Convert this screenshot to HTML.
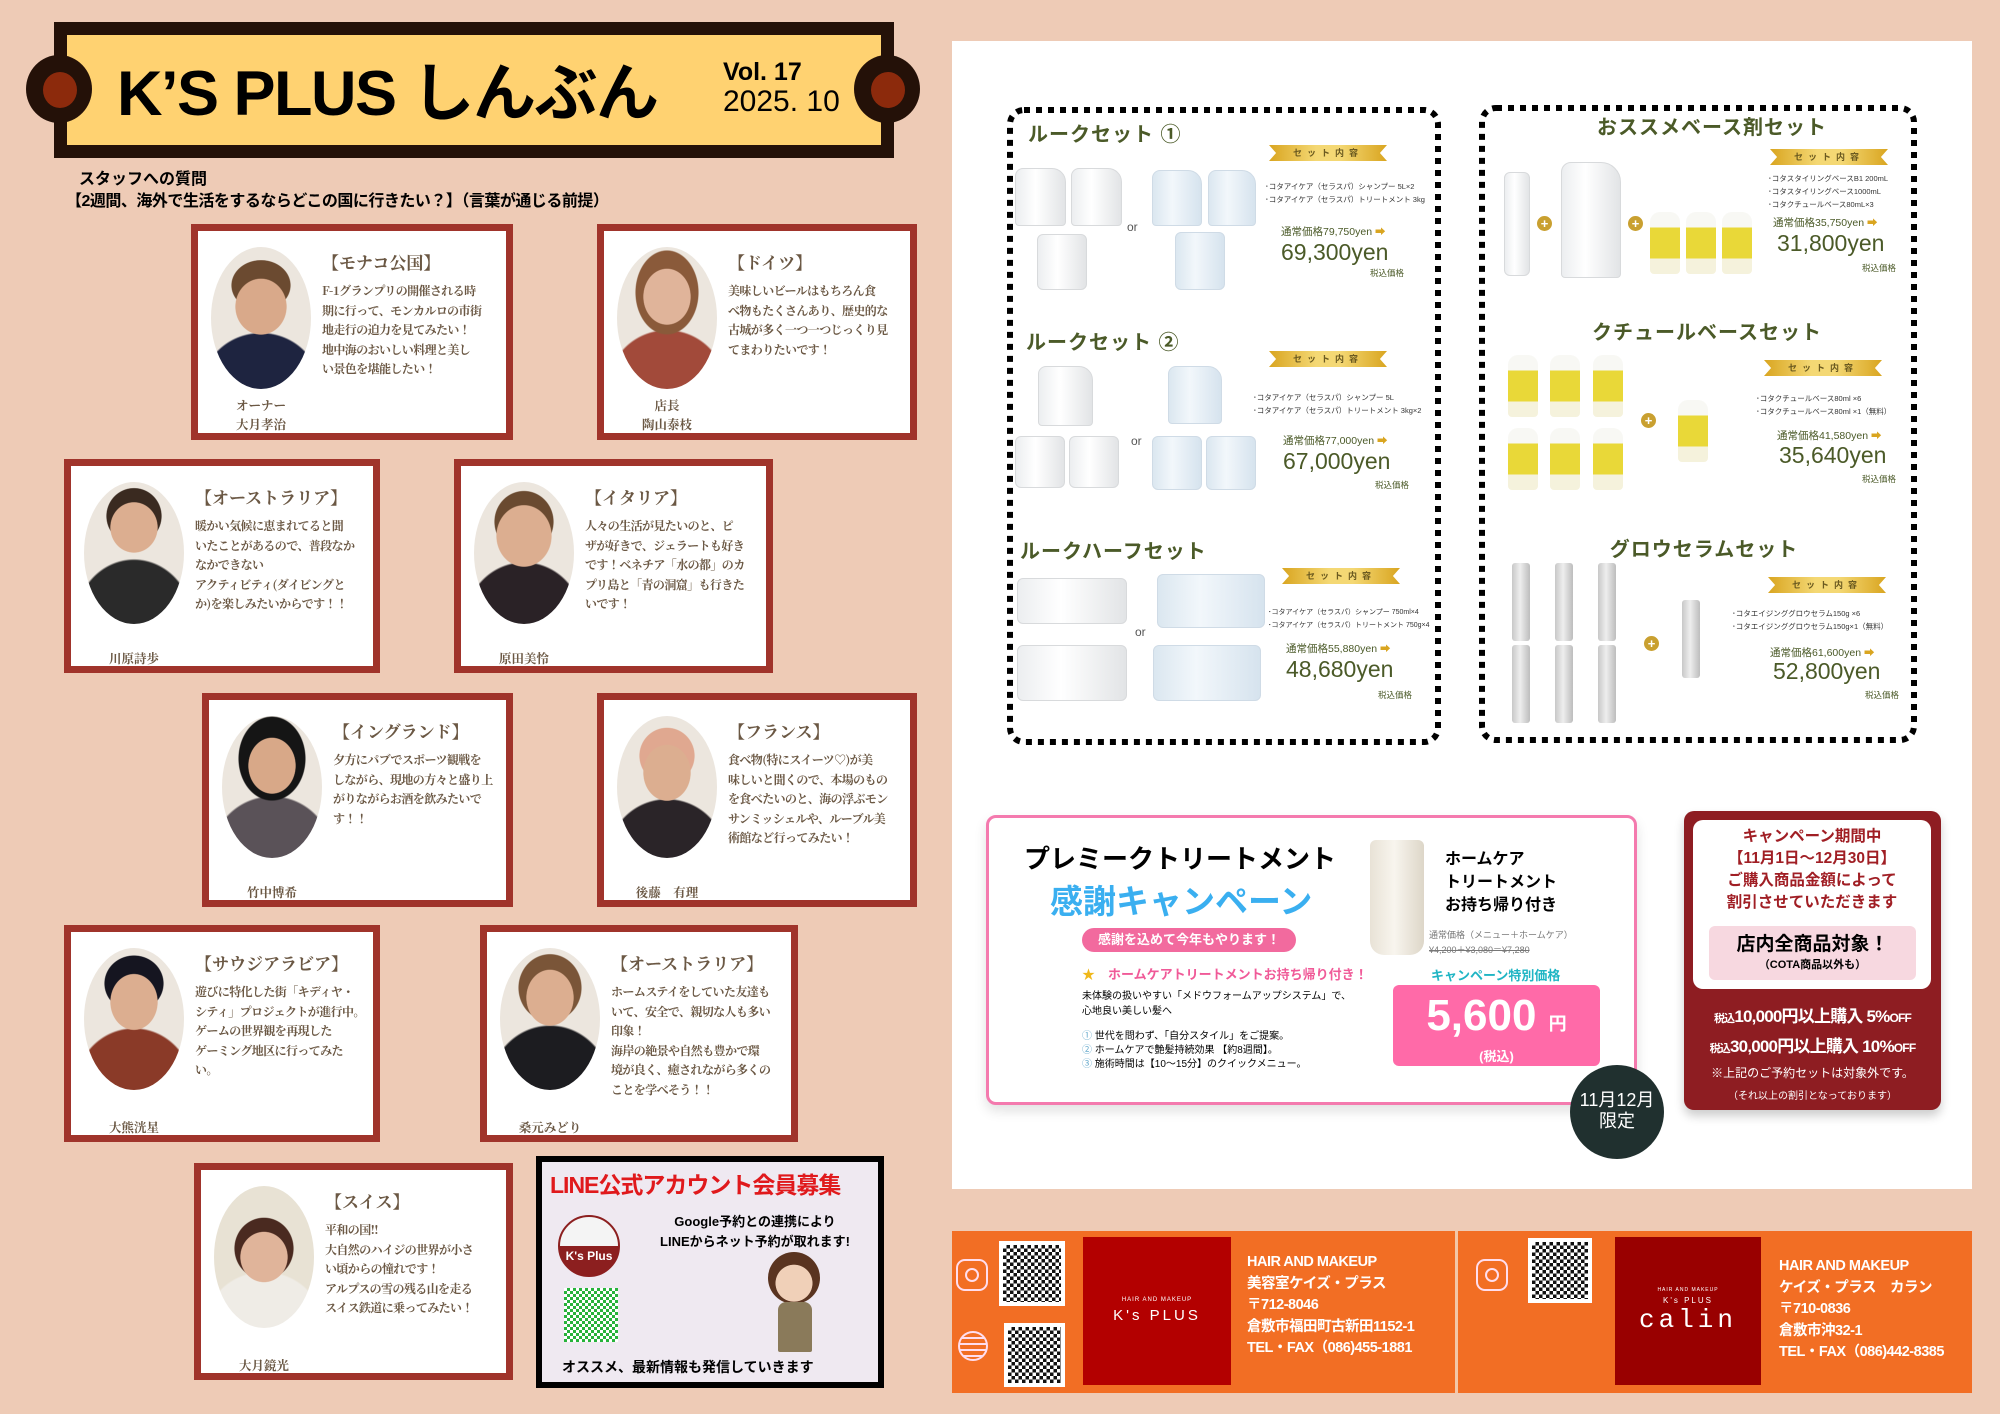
<!DOCTYPE html>
<html><head><meta charset="utf-8">
<style>
*{margin:0;padding:0;box-sizing:border-box}
body{width:2000px;height:1414px;background:#eecbb6;position:relative;overflow:hidden;font-family:"Liberation Sans","Noto Sans CJK JP",sans-serif}
.a{position:absolute}
.card{position:absolute;background:#fff;border:7px solid #a0342b}
.card .ph{position:absolute;left:13px;top:16px;width:100px;height:142px;border-radius:50%;overflow:hidden}
.card .t{position:absolute;left:124px;top:18px;font-family:"Noto Serif CJK JP","Liberation Serif",serif;font-weight:bold;font-size:17px;color:#6b5844;white-space:nowrap}
.card .b{position:absolute;left:124px;top:50px;font-family:"Noto Serif CJK JP","Liberation Serif",serif;font-weight:bold;font-size:12px;letter-spacing:-0.6px;line-height:19.5px;color:#6b5844;white-space:nowrap}
.card .n{position:absolute;left:0;width:126px;text-align:center;font-family:"Noto Serif CJK JP","Liberation Serif",serif;font-weight:bold;font-size:12.5px;line-height:19px;color:#6b5844}
.ttl{position:absolute;color:#4b5a28;font-weight:bold;font-size:20px;white-space:nowrap;letter-spacing:1px}
.ban{position:absolute;width:118px;height:16px;background:linear-gradient(90deg,#d9a520,#f4d874 40%,#f4d874 60%,#d9a520);clip-path:polygon(0 0,100% 0,94% 50%,100% 100%,0 100%,6% 50%);color:#6b5a20;font-size:9px;text-align:center;line-height:16px;letter-spacing:5px;font-weight:bold}
.bul{position:absolute;font-size:7.5px;line-height:13px;color:#333;white-space:nowrap}
.ps{position:absolute;font-size:10.5px;color:#4b5a28;white-space:nowrap}
.ps span{color:#d9a520}
.pb{position:absolute;font-size:23px;color:#4b5a28;white-space:nowrap}
.tx{position:absolute;font-size:8.5px;color:#4b5a28}
.jug{position:absolute;background:linear-gradient(90deg,#eceef0,#fff 40%,#e2e4e6);border:1px solid #d8dadc;border-radius:8px 14px 4px 4px}
.bj{position:absolute;background:linear-gradient(90deg,#dbe7f0,#f2f7fb 40%,#d6e3ee);border:1px solid #cfdbe6;border-radius:8px 14px 4px 4px}
.yb{position:absolute;width:30px;height:62px;border-radius:10px 10px 4px 4px;background:linear-gradient(#f8f8f4 0 25%,#e9d838 25% 75%,#f5f2dc 75%)}
.sp{position:absolute;width:18px;height:78px;border-radius:3px;background:linear-gradient(90deg,#c8c8c8,#eee 45%,#bdbdbd)}
.plus{position:absolute;width:15px;height:15px;border-radius:50%;background:#c9a030;color:#fff;font-size:13px;line-height:15px;text-align:center;font-weight:bold}
.or{position:absolute;font-size:12px;color:#555}
.qr{position:absolute;background:#fff;padding:4px}
.qr div{width:100%;height:100%;background:conic-gradient(#111 25%,#fff 0 50%,#111 0 75%,#fff 0) 0 0/7px 7px}
.ft{position:absolute;color:#fff;font-weight:bold;font-size:14.5px;line-height:21.5px;white-space:nowrap;letter-spacing:-.5px}
</style></head><body>

<!-- header -->
<div class="a" style="left:54px;top:22px;width:840px;height:136px;background:#241108"></div>
<div class="a" style="left:67px;top:35px;width:814px;height:110px;background:#ffd271"></div>
<div class="a" style="left:26px;top:55px;width:66px;height:68px;border-radius:50%;background:#241108"></div>
<div class="a" style="left:43px;top:72px;width:34px;height:36px;border-radius:50%;background:#8c2a0c"></div>
<div class="a" style="left:854px;top:55px;width:66px;height:68px;border-radius:50%;background:#241108"></div>
<div class="a" style="left:871px;top:72px;width:34px;height:36px;border-radius:50%;background:#8c2a0c"></div>
<div class="a" style="left:117px;top:43px;font-size:63px;font-weight:bold;color:#000;white-space:nowrap;letter-spacing:-1.5px">K’S PLUS しんぶん</div>
<div class="a" style="left:723px;top:58px;font-size:25px;font-weight:bold;color:#000">Vol. 17</div>
<div class="a" style="left:723px;top:85px;font-size:30px;color:#000">2025. 10</div>
<div class="a" style="left:79px;top:165px;font-size:16px;font-weight:bold">スタッフへの質問</div>
<div class="a" style="left:66px;top:187px;font-size:16px;font-weight:bold;white-space:nowrap;letter-spacing:-.5px">【2週間、海外で生活をするならどこの国に行きたい？】（言葉が通じる前提）</div>

<!-- cards -->
<div class="card" style="left:191px;top:224px;width:322px;height:216px">
 <div class="ph" style="background:radial-gradient(ellipse 26% 20% at 50% 42%,#d9a98a 97%,transparent),radial-gradient(ellipse 30% 18% at 50% 27%,#6b4a30 97%,transparent),radial-gradient(ellipse 60% 40% at 50% 100%,#1e2440 97%,transparent),#ece6de"></div>
 <div class="t">【モナコ公国】</div>
 <div class="b">F-1グランプリの開催される時<br>期に行って、モンカルロの市街<br>地走行の迫力を見てみたい！<br>地中海のおいしい料理と美し<br>い景色を堪能したい！</div>
 <div class="n" style="top:165px">オーナー<br>大月孝治</div>
</div>
<div class="card" style="left:597px;top:224px;width:320px;height:216px">
 <div class="ph" style="background:radial-gradient(ellipse 24% 20% at 50% 35%,#e0b49a 97%,transparent),radial-gradient(ellipse 32% 30% at 50% 32%,#8a5a3a 97%,transparent),radial-gradient(ellipse 60% 42% at 50% 100%,#a24a3a 97%,transparent),#ece6de"></div>
 <div class="t">【ドイツ】</div>
 <div class="b">美味しいビールはもちろん食<br>べ物もたくさんあり、歴史的な<br>古城が多く一つ一つじっくり見<br>てまわりたいです！</div>
 <div class="n" style="top:165px">店長<br>陶山泰枝</div>
</div>
<div class="card" style="left:64px;top:459px;width:316px;height:214px">
 <div class="ph" style="background:radial-gradient(ellipse 24% 18% at 50% 32%,#dcae90 97%,transparent),radial-gradient(ellipse 28% 20% at 50% 24%,#3a2a20 97%,transparent),radial-gradient(ellipse 60% 46% at 50% 100%,#2a2a2a 97%,transparent),#ece6de"></div>
 <div class="t">【オーストラリア】</div>
 <div class="b">暖かい気候に恵まれてると聞<br>いたことがあるので、普段なか<br>なかできない<br>アクティビティ(ダイビングと<br>か)を楽しみたいからです！！</div>
 <div class="n" style="top:183px">川原詩歩</div>
</div>
<div class="card" style="left:454px;top:459px;width:319px;height:214px">
 <div class="ph" style="background:radial-gradient(ellipse 28% 22% at 50% 38%,#dcae90 97%,transparent),radial-gradient(ellipse 30% 22% at 50% 28%,#6a4a30 97%,transparent),radial-gradient(ellipse 60% 44% at 50% 100%,#2a2226 97%,transparent),#ece6de"></div>
 <div class="t">【イタリア】</div>
 <div class="b">人々の生活が見たいのと、ピ<br>ザが好きで、ジェラートも好き<br>です！ベネチア「水の都」のカ<br>プリ島と「青の洞窟」も行きた<br>いです！</div>
 <div class="n" style="top:183px">原田美怜</div>
</div>
<div class="card" style="left:202px;top:693px;width:311px;height:214px">
 <div class="ph" style="background:radial-gradient(ellipse 24% 20% at 50% 35%,#d8a888 97%,transparent),radial-gradient(ellipse 34% 30% at 50% 30%,#151515 97%,transparent),radial-gradient(ellipse 62% 44% at 50% 100%,#5a5258 97%,transparent),#ece6de"></div>
 <div class="t">【イングランド】</div>
 <div class="b">夕方にパブでスポーツ観戦を<br>しながら、現地の方々と盛り上<br>がりながらお酒を飲みたいで<br>す！！</div>
 <div class="n" style="top:183px">竹中博希</div>
</div>
<div class="card" style="left:597px;top:693px;width:320px;height:214px">
 <div class="ph" style="background:radial-gradient(ellipse 24% 20% at 50% 40%,#dcae90 97%,transparent),radial-gradient(ellipse 28% 20% at 50% 28%,#e0a890 97%,transparent),radial-gradient(ellipse 60% 42% at 50% 100%,#2a2428 97%,transparent),#ece6de"></div>
 <div class="t">【フランス】</div>
 <div class="b">食べ物(特にスイーツ♡)が美<br>味しいと聞くので、本場のもの<br>を食べたいのと、海の浮ぶモン<br>サンミッシェルや、ルーブル美<br>術館など行ってみたい！</div>
 <div class="n" style="top:183px">後藤　有理</div>
</div>
<div class="card" style="left:64px;top:925px;width:316px;height:217px">
 <div class="ph" style="background:radial-gradient(ellipse 24% 20% at 50% 38%,#dcae90 97%,transparent),radial-gradient(ellipse 30% 20% at 50% 25%,#151520 97%,transparent),radial-gradient(ellipse 60% 44% at 50% 100%,#8a3a28 97%,transparent),#ece6de"></div>
 <div class="t">【サウジアラビア】</div>
 <div class="b">遊びに特化した街「キディヤ・<br>シティ」プロジェクトが進行中。<br>ゲームの世界観を再現した<br>ゲーミング地区に行ってみた<br>い。</div>
 <div class="n" style="top:186px">大熊洸星</div>
</div>
<div class="card" style="left:480px;top:925px;width:318px;height:217px">
 <div class="ph" style="background:radial-gradient(ellipse 24% 20% at 50% 35%,#dcae90 97%,transparent),radial-gradient(ellipse 32% 24% at 50% 28%,#7a5538 97%,transparent),radial-gradient(ellipse 62% 46% at 50% 100%,#1c1c20 97%,transparent),#ece6de"></div>
 <div class="t">【オーストラリア】</div>
 <div class="b">ホームステイをしていた友達も<br>いて、安全で、親切な人も多い<br>印象！<br>海岸の絶景や自然も豊かで環<br>境が良く、癒されながら多くの<br>ことを学べそう！！</div>
 <div class="n" style="top:186px">桑元みどり</div>
</div>
<div class="card" style="left:194px;top:1163px;width:319px;height:217px">
 <div class="ph" style="background:radial-gradient(ellipse 24% 18% at 50% 50%,#e0b49a 97%,transparent),radial-gradient(ellipse 30% 22% at 50% 44%,#4a2a20 97%,transparent),radial-gradient(ellipse 60% 40% at 50% 100%,#efece6 97%,transparent),#e8e2d4"></div>
 <div class="t">【スイス】</div>
 <div class="b">平和の国!!<br>大自然のハイジの世界が小さ<br>い頃からの憧れです！<br>アルプスの雪の残る山を走る<br>スイス鉄道に乗ってみたい！</div>
 <div class="n" style="top:186px">大月鏡光</div>
</div>

<!-- LINE box -->
<div class="a" style="left:536px;top:1156px;width:348px;height:232px;border:6px solid #000;background:#efe9f1">
 <div class="a" style="left:8px;top:4px;font-size:23px;font-weight:bold;color:#e0191c;white-space:nowrap;letter-spacing:-1px">LINE公式アカウント会員募集</div>
 <div class="a" style="left:16px;top:53px;width:62px;height:62px;border-radius:50%;background:linear-gradient(#f4f4f4 50%,#8c1f1f 50%);border:2px solid #8c1f1f"><div style="position:absolute;top:32px;width:100%;text-align:center;color:#fff;font-size:12px;font-weight:bold">K's Plus</div></div>
 <div class="a" style="left:22px;top:126px;width:54px;height:54px;background:conic-gradient(#27b33a 25%,#fff 0 50%,#27b33a 0 75%,#fff 0) 0 0/6px 6px"></div>
 <div class="a" style="left:98px;top:50px;width:230px;text-align:center;font-size:13px;font-weight:bold;line-height:20px">Google予約との連携により<br>LINEからネット予約が取れます!</div>
 <div class="a" style="left:226px;top:90px;width:52px;height:52px;border-radius:50%;background:radial-gradient(circle at 50% 60%,#f0d0b8 45%,#5a3420 46%)"></div>
 <div class="a" style="left:236px;top:140px;width:34px;height:50px;background:#8a7a5a;border-radius:8px 8px 2px 2px"></div>
 <div class="a" style="left:20px;top:195px;font-size:14px;font-weight:bold;white-space:nowrap">オススメ、最新情報も発信していきます</div>
</div>

<!-- right panel -->
<div class="a" style="left:952px;top:41px;width:1020px;height:1148px;background:#fff"></div>
<svg class="a" style="left:0;top:0" width="2000" height="1414">
 <rect x="1010" y="110" width="428" height="632" rx="14" fill="none" stroke="#000" stroke-width="6" stroke-dasharray="6 6"/>
 <rect x="1482" y="108" width="432" height="632" rx="14" fill="none" stroke="#000" stroke-width="6" stroke-dasharray="6 6"/>
</svg>

<!-- left set 1 -->
<div class="ttl" style="left:1028px;top:118px">ルークセット ①</div>
<div class="jug" style="left:1015px;top:168px;width:51px;height:58px"></div><div class="jug" style="left:1071px;top:168px;width:51px;height:58px"></div>
<div class="jug" style="left:1037px;top:234px;width:50px;height:56px;border-radius:6px"></div>
<div class="or" style="left:1127px;top:220px">or</div>
<div class="bj" style="left:1152px;top:170px;width:50px;height:56px"></div><div class="bj" style="left:1208px;top:170px;width:48px;height:56px"></div>
<div class="bj" style="left:1175px;top:232px;width:50px;height:58px;border-radius:6px"></div>
<div class="ban" style="left:1269px;top:145px">セット内容</div>
<div class="bul" style="left:1265px;top:180px">･コタアイケア（セラスパ）シャンプー 5L×2<br>･コタアイケア（セラスパ）トリートメント 3kg</div>
<div class="ps" style="left:1281px;top:224px">通常価格79,750yen <span>➡</span></div>
<div class="pb" style="left:1281px;top:239px">69,300yen</div>
<div class="tx" style="left:1370px;top:267px">税込価格</div>

<!-- left set 2 -->
<div class="ttl" style="left:1026px;top:326px">ルークセット ②</div>
<div class="jug" style="left:1038px;top:366px;width:55px;height:60px"></div>
<div class="jug" style="left:1015px;top:436px;width:50px;height:52px;border-radius:6px"></div><div class="jug" style="left:1069px;top:436px;width:50px;height:52px;border-radius:6px"></div>
<div class="or" style="left:1131px;top:434px">or</div>
<div class="bj" style="left:1168px;top:366px;width:54px;height:58px"></div>
<div class="bj" style="left:1152px;top:436px;width:50px;height:54px;border-radius:6px"></div><div class="bj" style="left:1206px;top:436px;width:50px;height:54px;border-radius:6px"></div>
<div class="ban" style="left:1269px;top:351px">セット内容</div>
<div class="bul" style="left:1253px;top:391px">･コタアイケア（セラスパ）シャンプー 5L<br>･コタアイケア（セラスパ）トリートメント 3kg×2</div>
<div class="ps" style="left:1283px;top:433px">通常価格77,000yen <span>➡</span></div>
<div class="pb" style="left:1283px;top:448px">67,000yen</div>
<div class="tx" style="left:1375px;top:479px">税込価格</div>

<!-- left set 3 -->
<div class="ttl" style="left:1020px;top:535px">ルークハーフセット</div>
<div class="jug" style="left:1017px;top:578px;width:110px;height:46px;border-radius:6px"></div>
<div class="jug" style="left:1017px;top:645px;width:110px;height:56px;border-radius:6px"></div>
<div class="or" style="left:1135px;top:625px">or</div>
<div class="bj" style="left:1157px;top:574px;width:108px;height:54px;border-radius:6px"></div>
<div class="bj" style="left:1153px;top:645px;width:108px;height:56px;border-radius:6px"></div>
<div class="ban" style="left:1282px;top:568px">セット内容</div>
<div class="bul" style="left:1268px;top:606px;font-size:7px">･コタアイケア（セラスパ）シャンプー 750ml×4<br>･コタアイケア（セラスパ）トリートメント 750g×4</div>
<div class="ps" style="left:1286px;top:641px">通常価格55,880yen <span>➡</span></div>
<div class="pb" style="left:1286px;top:656px">48,680yen</div>
<div class="tx" style="left:1378px;top:689px">税込価格</div>

<!-- right set 1 -->
<div class="ttl" style="left:1712px;top:111px;transform:translateX(-50%)">おススメベース剤セット</div>
<div class="jug" style="left:1504px;top:172px;width:26px;height:104px;border-radius:6px"></div>
<div class="plus" style="left:1537px;top:216px">+</div>
<div class="jug" style="left:1561px;top:162px;width:60px;height:116px;border-radius:10px 20px 4px 4px"></div>
<div class="plus" style="left:1628px;top:216px">+</div>
<div class="yb" style="left:1650px;top:212px"></div><div class="yb" style="left:1686px;top:212px"></div><div class="yb" style="left:1722px;top:212px"></div>
<div class="ban" style="left:1770px;top:149px">セット内容</div>
<div class="bul" style="left:1768px;top:172px">･コタスタイリングベースB1 200mL<br>･コタスタイリングベース1000mL<br>･コタクチュールベース80mL×3</div>
<div class="ps" style="left:1773px;top:215px">通常価格35,750yen <span>➡</span></div>
<div class="pb" style="left:1777px;top:230px">31,800yen</div>
<div class="tx" style="left:1862px;top:262px">税込価格</div>

<!-- right set 2 -->
<div class="ttl" style="left:1707px;top:316px;transform:translateX(-50%)">クチュールベースセット</div>
<div class="yb" style="left:1508px;top:355px"></div><div class="yb" style="left:1550px;top:355px"></div><div class="yb" style="left:1593px;top:355px"></div>
<div class="yb" style="left:1508px;top:428px"></div><div class="yb" style="left:1550px;top:428px"></div><div class="yb" style="left:1593px;top:428px"></div>
<div class="plus" style="left:1641px;top:413px">+</div>
<div class="yb" style="left:1678px;top:400px"></div>
<div class="ban" style="left:1764px;top:360px">セット内容</div>
<div class="bul" style="left:1756px;top:392px">･コタクチュールベース80ml ×6<br>･コタクチュールベース80ml ×1（無料）</div>
<div class="ps" style="left:1777px;top:428px">通常価格41,580yen <span>➡</span></div>
<div class="pb" style="left:1779px;top:442px">35,640yen</div>
<div class="tx" style="left:1862px;top:473px">税込価格</div>

<!-- right set 3 -->
<div class="ttl" style="left:1704px;top:533px;transform:translateX(-50%)">グロウセラムセット</div>
<div class="sp" style="left:1512px;top:563px"></div><div class="sp" style="left:1555px;top:563px"></div><div class="sp" style="left:1598px;top:563px"></div>
<div class="sp" style="left:1512px;top:645px"></div><div class="sp" style="left:1555px;top:645px"></div><div class="sp" style="left:1598px;top:645px"></div>
<div class="plus" style="left:1644px;top:636px">+</div>
<div class="sp" style="left:1682px;top:600px"></div>
<div class="ban" style="left:1768px;top:577px">セット内容</div>
<div class="bul" style="left:1732px;top:607px">･コタエイジンググロウセラム150g ×6<br>･コタエイジンググロウセラム150g×1（無料）</div>
<div class="ps" style="left:1770px;top:645px">通常価格61,600yen <span>➡</span></div>
<div class="pb" style="left:1773px;top:658px">52,800yen</div>
<div class="tx" style="left:1865px;top:689px">税込価格</div>

<!-- promo -->
<div class="a" style="left:986px;top:815px;width:651px;height:290px;border:3px solid #f47aae;border-radius:10px;background:#fff;box-shadow:0 6px 12px rgba(0,0,0,.12)"></div>
<div class="a" style="left:1024px;top:839px;font-size:26px;font-weight:bold;white-space:nowrap">プレミークトリートメント</div>
<div class="a" style="left:1050px;top:875px;font-size:33px;font-weight:bold;color:#3aaff0;white-space:nowrap">感謝キャンペーン</div>
<div class="a" style="left:1082px;top:928px;width:214px;height:24px;border-radius:12px;background:#f26a9e;color:#fff;font-size:13px;font-weight:bold;line-height:24px;text-align:center">感謝を込めて今年もやります！</div>
<div class="a" style="left:1082px;top:964px;font-size:13px;color:#f05a98;font-weight:bold;white-space:nowrap"><span style="color:#f0b81a">★</span>　ホームケアトリートメントお持ち帰り付き！</div>
<div class="a" style="left:1082px;top:989px;font-size:10px;line-height:15px;white-space:nowrap">未体験の扱いやすい「メドウフォームアップシステム」で、<br>心地良い美しい髪へ</div>
<div class="a" style="left:1082px;top:1030px;font-size:10px;line-height:14px;white-space:nowrap"><span style="color:#6ac">①</span> 世代を問わず、「自分スタイル」をご提案。<br><span style="color:#6ac">②</span> ホームケアで艶髪持続効果 【約8週間】。<br><span style="color:#6ac">③</span> 施術時間は【10〜15分】のクイックメニュー。</div>
<div class="a" style="left:1370px;top:840px;width:54px;height:115px;border-radius:6px 6px 14px 14px;background:linear-gradient(90deg,#e8e2d6,#f8f5ee 45%,#ddd6c8)"></div>
<div class="a" style="left:1445px;top:848px;font-size:16px;font-weight:bold;line-height:23px">ホームケア<br>トリートメント<br>お持ち帰り付き</div>
<div class="a" style="left:1429px;top:928px;font-size:9px;color:#777;line-height:15px;white-space:nowrap">通常価格（メニュー＋ホームケア）<br><s>¥4,200＋¥3,080＝¥7,280</s></div>
<div class="a" style="left:1431px;top:965px;font-size:13px;font-weight:bold;color:#1fb5c4">キャンペーン特別価格</div>
<div class="a" style="left:1393px;top:985px;width:207px;height:81px;border-radius:6px;background:#ff6aa8;color:#fff;text-align:center">
 <div style="font-size:44px;font-weight:bold;line-height:50px;margin-top:6px">5,600 <span style="font-size:18px">円</span></div>
 <div style="font-size:13px;font-weight:bold;line-height:16px">(税込)</div></div>
<div class="a" style="left:1570px;top:1065px;width:94px;height:94px;border-radius:50%;background:#20302f;color:#fff;text-align:center;font-size:18px;line-height:21px;padding-top:25px">11月12月<br>限定</div>

<!-- campaign -->
<div class="a" style="left:1684px;top:811px;width:257px;height:299px;border-radius:10px;background:#8e1d22;box-shadow:0 6px 10px rgba(0,0,0,.2)"></div>
<div class="a" style="left:1693px;top:820px;width:238px;height:169px;border-radius:10px;background:#fff"></div>
<div class="a" style="left:1693px;top:826px;width:238px;text-align:center;color:#a01e24;font-weight:bold;font-size:15.5px;line-height:22px">キャンペーン期間中<br>【11月1日〜12月30日】<br>ご購入商品金額によって<br>割引させていただきます</div>
<div class="a" style="left:1709px;top:926px;width:207px;height:54px;border-radius:6px;background:#f7d8e0;text-align:center">
 <div style="font-size:19px;font-weight:bold;margin-top:8px;line-height:22px">店内全商品対象！</div><div style="font-size:11px;font-weight:bold">（COTA商品以外も）</div></div>
<div class="a" style="left:1684px;top:1003px;width:257px;text-align:center;color:#fff;font-weight:bold;font-size:17px;line-height:28px;white-space:nowrap;letter-spacing:-.8px"><span style="font-size:11px">税込</span>10,000円以上購入 5%<span style="font-size:12px">OFF</span><br><span style="font-size:11px">税込</span>30,000円以上購入 10%<span style="font-size:12px">OFF</span></div>
<div class="a" style="left:1684px;top:1062px;width:257px;text-align:center;color:#fff;font-size:12px;line-height:22px">※上記のご予約セットは対象外です。<br><span style="font-size:10px">（それ以上の割引となっております）</span></div>

<!-- footer -->
<div class="a" style="left:952px;top:1231px;width:1020px;height:162px;background:#f26e24"></div>
<div class="a" style="left:1455px;top:1231px;width:3px;height:162px;background:#f3c7a8"></div>
<div class="a" style="left:956px;top:1259px;width:32px;height:32px;border:2px solid #fde;border-radius:9px"><div style="position:absolute;left:7px;top:7px;width:14px;height:14px;border:2px solid #fde;border-radius:50%"></div></div>
<div class="a" style="left:958px;top:1331px;width:30px;height:30px;border:2px solid #fde;border-radius:50%;background:repeating-linear-gradient(#f26e24 0 4px,#fde 4px 6px)"></div>
<div class="qr" style="left:999px;top:1241px;width:66px;height:65px"><div></div></div>
<div class="qr" style="left:1004px;top:1323px;width:61px;height:64px"><div></div></div>
<div class="a" style="left:1083px;top:1237px;width:148px;height:148px;background:#b30000;color:#fff;text-align:center">
 <div style="font-size:6px;margin-top:60px;letter-spacing:1px">HAIR AND MAKEUP</div><div style="font-size:15px;letter-spacing:3px;margin-top:4px">K's PLUS</div></div>
<div class="ft" style="left:1247px;top:1252px">HAIR AND MAKEUP<br>美容室ケイズ・プラス<br>〒712-8046<br>倉敷市福田町古新田1152-1<br>TEL・FAX（086)455-1881</div>
<div class="a" style="left:1476px;top:1259px;width:32px;height:32px;border:2px solid #fde;border-radius:9px"><div style="position:absolute;left:7px;top:7px;width:14px;height:14px;border:2px solid #fde;border-radius:50%"></div></div>
<div class="qr" style="left:1528px;top:1238px;width:64px;height:65px"><div></div></div>
<div class="a" style="left:1615px;top:1237px;width:146px;height:148px;background:#990000;color:#fff;text-align:center">
 <div style="font-size:5px;margin-top:50px;letter-spacing:1px">HAIR AND MAKEUP</div><div style="font-size:8px;letter-spacing:2px;margin-top:3px">K's PLUS</div><div style="font-size:26px;letter-spacing:4px;font-family:'Liberation Mono',monospace">calin</div></div>
<div class="ft" style="left:1779px;top:1256px">HAIR AND MAKEUP<br>ケイズ・プラス　カラン<br>〒710-0836<br>倉敷市沖32-1<br>TEL・FAX（086)442-8385</div>
</body></html>
